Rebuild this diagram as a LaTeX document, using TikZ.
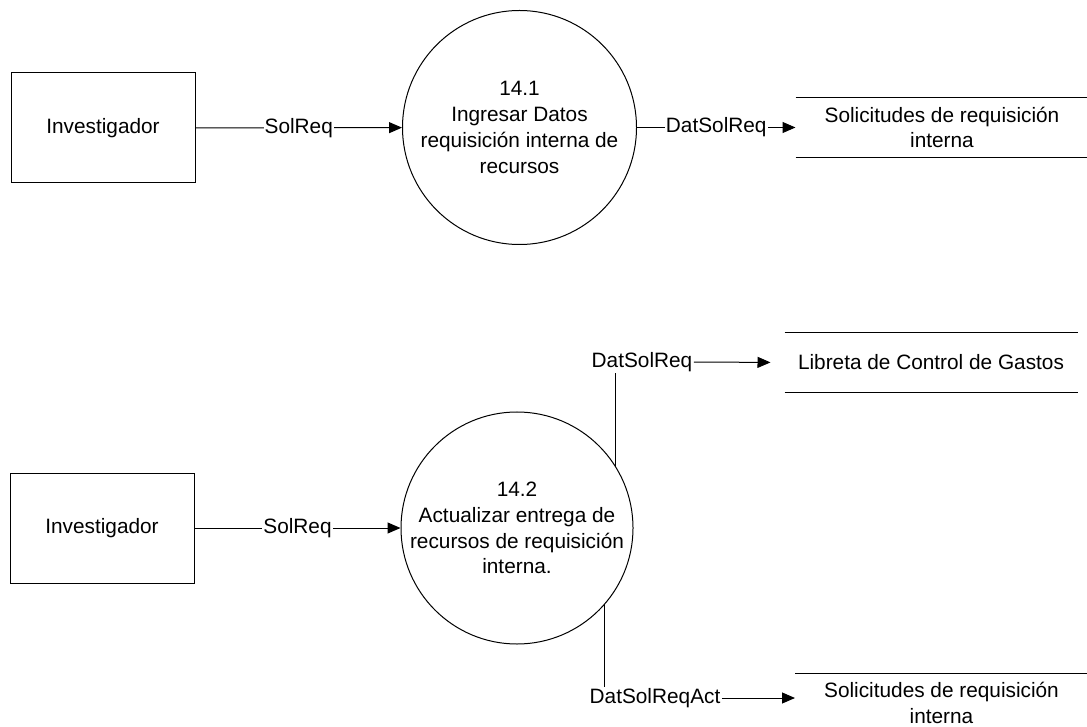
\documentclass[tikz,border=0pt]{standalone}
\usepackage{fontspec}
\setmainfont{Liberation Sans}
\usetikzlibrary{arrows.meta}

\begin{document}
\begin{tikzpicture}[x=0.5pt, y=-0.5pt, >={Triangle[length=6.5pt,width=5.5pt]}, line cap=butt, line join=miter,
    font=\fontsize{10.4}{12.9}\selectfont, line width=0.5pt,
    entity/.style={draw, minimum width=92pt, minimum height=55pt, inner sep=0pt},
    proc/.style={draw, circle, minimum size=117pt, inner sep=0pt, align=center},
    store/.style={minimum width=146pt, minimum height=29.5pt, inner sep=0pt, align=center},
    flow/.style={fill=white, inner sep=0.5pt}]
  \useasboundingbox (0,0) rectangle (1087,727);
  % upper part: 14.1
  \node[entity] (inv1) at (103,128) {Investigador};
  \node[proc] (p1) at (519.5,127.5) {14.1\\Ingresar Datos\\requisición interna de\\recursos};
  \node[store] (st1) at (942,127.5) {Solicitudes de requisición\\interna};
  \draw (st1.north west) -- (st1.north east);
  \draw (st1.south west) -- (st1.south east);
  \draw[->] (inv1) -- node[flow] {SolReq} (p1);
  \draw[->] (p1) -- node[flow] {DatSolReq} (st1);
  % lower part: 14.2
  \node[entity] (inv2) at (102,528) {Investigador};
  \node[proc, minimum size=116pt] (p2) at (517,528) {14.2\\Actualizar entrega de\\recursos de requisición\\interna.};
  \node[store] (st2) at (931,362.5) {Libreta de Control de Gastos};
  \draw (st2.north west) -- (st2.north east);
  \draw (st2.south west) -- (st2.south east);
  \node[store] (st3) at (941.5,703) {Solicitudes de requisición\\interna};
  \draw (st3.north west) -- (st3.north east);
  \node[flow] (fa) at (642,362) {DatSolReq};
  \node[flow] (fb) at (655,698) {DatSolReqAct};
  \draw[->] (inv2) -- node[flow] {SolReq} (p2);
  \draw (p2.32) -- (p2.32 |- fa.south);
  \draw[->, shorten >=7pt] (fa.east) -- (st2.west);
  \draw (p2.-41) -- (p2.-41 |- fb.north);
  \draw[->] (fb.east) -- (fb.east -| st3.west);
\end{tikzpicture}
\end{document}
